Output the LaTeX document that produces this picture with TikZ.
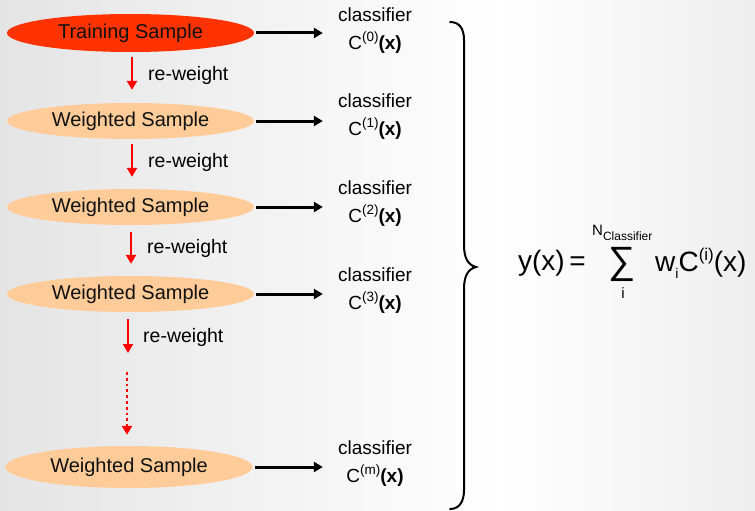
\documentclass[tikz,border=0pt]{standalone}
\usepackage{fontspec}
\setmainfont{Liberation Sans}
\usetikzlibrary{arrows.meta,shapes.geometric}

\definecolor{trainfill}{HTML}{FF3300}
\definecolor{weightfill}{HTML}{FFCC99}
\definecolor{bgleft}{HTML}{E4E4E4}
\definecolor{bgright}{HTML}{EEEEEE}
\definecolor{inktext}{HTML}{111111}

% small raised / lowered pieces of text
\newcommand{\supx}[1]{\raisebox{0.42em}{\fontsize{13.5}{13.5}\selectfont #1}}
\newcommand{\bigsupx}[1]{\raisebox{0.4em}{\fontsize{17}{17}\selectfont #1}}
\newcommand{\subx}[1]{\raisebox{-0.25em}{\fontsize{14}{14}\selectfont #1}}

\tikzset{
  sample/.style={ellipse, inner sep=0pt, minimum width=247pt, minimum height=36pt,
    text=inktext, font=\fontsize{20}{24}\selectfont},
  trainbox/.style={sample, fill=trainfill, minimum height=38pt},
  weightbox/.style={sample, fill=weightfill},
  clsbox/.style={align=center, inner sep=0pt, font=\fontsize{19}{28}\selectfont},
  rwarrow/.style={draw=red, line width=2.8pt, -{Triangle[width=10pt,length=9pt]}},
  rwdots/.style={rwarrow, dash pattern=on 2.8pt off 3pt},
  rwlabel/.style={anchor=west, inner sep=0pt, font=\fontsize{19.5}{22}\selectfont},
  toclass/.style={draw=black, line width=3pt, -{Triangle[width=10pt,length=9pt]}},
  formula/.style={inner sep=0pt, font=\fontsize{28}{32}\selectfont}
}

\begin{document}
\begin{tikzpicture}[x=1pt, y=-1pt]
  \useasboundingbox (0,0) rectangle (755,511);
  % background: grey towards both sides, white in between
  \shade[left color=bgleft, right color=white] (0,0) rectangle (500,511);
  \shade[left color=white, right color=bgright] (500,0) rectangle (755,511);

  % samples
  \node[trainbox]  (s0) at (130.5,33)  {Training Sample};
  \node[weightbox] (s1) at (130.5,121) {Weighted Sample};
  \node[weightbox] (s2) at (130.5,207) {Weighted Sample};
  \node[weightbox] (s3) at (130.5,294) {Weighted Sample};
  \node[weightbox, minimum height=42pt] (s4) at (129,467) {Weighted Sample};

  % classifiers
  \node[clsbox] (c0) at (375,31)  {classifier\\C\supx{(0)}\textbf{(x)}};
  \node[clsbox] (c1) at (375,117) {classifier\\C\supx{(1)}\textbf{(x)}};
  \node[clsbox] (c2) at (375,204) {classifier\\C\supx{(2)}\textbf{(x)}};
  \node[clsbox] (c3) at (375,291) {classifier\\C\supx{(3)}\textbf{(x)}};
  \node[clsbox] (c4) at (375,464) {classifier\\C\supx{(m)}\textbf{(x)}};

  % each sample trains a classifier
  \foreach \i in {0,...,4}
    \draw[toclass, shorten <=2pt, shorten >=15pt] (s\i.east) -- (s\i.east -| c\i.west);

  % re-weighting steps
  \coordinate (gapA) at (128,353);
  \coordinate (gapB) at (127,372);
  \draw[rwarrow, shorten <=5pt, shorten >=13pt] ([xshift=1.5pt]s0.south) -- ([xshift=1.5pt]s1.north);
  \draw[rwarrow, shorten <=5pt, shorten >=12pt] ([xshift=1.5pt]s1.south) -- ([xshift=1.5pt]s2.north);
  \draw[rwarrow, shorten <=7pt, shorten >=12pt] ([xshift=0.5pt]s2.south) -- ([xshift=0.5pt]s3.north);
  \draw[rwarrow, shorten <=7pt] ([xshift=-2.5pt]s3.south) -- (gapA);
  \draw[rwdots, shorten >=11pt] (gapB) -- (gapB |- s4.north);

  \node[rwlabel] (r0) at (148,75)  {re-weight};
  \node[rwlabel] (r1) at (148,162) {re-weight};
  \node[rwlabel] (r2) at (147,248) {re-weight};
  \node[rwlabel] (r3) at (143,337) {re-weight};

  % brace gathering all classifiers
  \coordinate (brTop) at (450,22);
  \coordinate (brTip) at (476,267);
  \coordinate (brBot) at (450,509);
  \draw[line width=2pt, line cap=round]
    (brTop) .. controls (459,22) and (464,28) .. (464,40)
    -- (464,245) .. controls (464,258) and (468,265) .. (brTip)
    .. controls (468,269) and (464,276) .. (464,289)
    -- (464,490) .. controls (464,502) and (459,509) .. (brBot);

  % combined classifier
  \node[formula, anchor=east] (lhs) at (586,263) {y(x)\,=};
  \node[inner sep=0pt, font=\fontsize{38}{38}\selectfont] (sig) at (622,264) {∑};
  \node[inner sep=0pt, font=\fontsize{15}{15}\selectfont, anchor=west] (nup) at (592,233)
    {N\raisebox{-0.3em}{\fontsize{12}{12}\selectfont Classifier}};
  \node[inner sep=0pt, font=\fontsize{15}{15}\selectfont] (ilo) at (623,293) {i};
  \node[formula, anchor=west] (rhs) at (655,263) {w\subx{i}C\bigsupx{(i)}(x)};
\end{tikzpicture}
\end{document}
